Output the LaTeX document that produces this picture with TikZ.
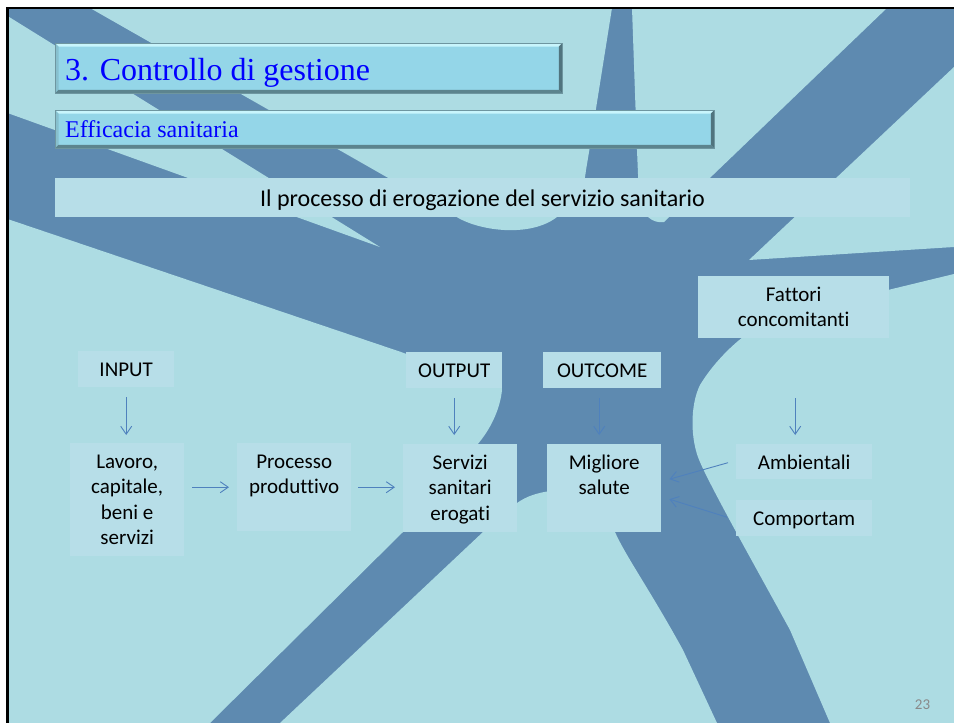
\documentclass[tikz,border=0pt]{standalone}
\usepackage{fontspec}
\setmainfont[Ligatures={NoCommon}]{Carlito}
\newfontfamily\headfont{Liberation Serif}
\usetikzlibrary{arrows.meta,calc}

\definecolor{bgLight}{RGB}{173,220,227}
\definecolor{bgDark}{RGB}{94,138,176}
\definecolor{boxFill}{RGB}{183,222,232}
\definecolor{titleFill}{RGB}{148,214,232}
\definecolor{bevelHi}{RGB}{200,245,252}
\definecolor{bevelSide}{RGB}{135,192,206}
\definecolor{bevelLo}{RGB}{92,132,142}
\definecolor{bevelDark}{RGB}{80,116,126}
\definecolor{bevelEdge}{RGB}{110,150,160}
\definecolor{arrowBlue}{RGB}{79,129,189}
\definecolor{titleBlue}{RGB}{0,0,255}
\definecolor{pageGray}{RGB}{137,137,137}

% bevelled frame around a title bar node
\newcommand\bevelframe[1]{%
  \fill[bevelHi] (#1.north west) -- (#1.north east) -- ($(#1.north east)+(-3.5,3.5)$) -- ($(#1.north west)+(3.5,3.5)$) -- cycle;
  \fill[bevelSide] (#1.north west) -- ($(#1.north west)+(3.5,3.5)$) -- ($(#1.south west)+(3.5,-3.5)$) -- (#1.south west) -- cycle;
  \fill[bevelLo] (#1.south west) -- ($(#1.south west)+(3.5,-3.5)$) -- ($(#1.south east)+(-3.5,-3.5)$) -- (#1.south east) -- cycle;
  \fill[bevelDark] (#1.north east) -- (#1.south east) -- ($(#1.south east)+(-3.5,-3.5)$) -- ($(#1.north east)+(-3.5,3.5)$) -- cycle;
  \draw[bevelEdge, line width=0.8] (#1.north west) rectangle (#1.south east);
}

\begin{document}
\begin{tikzpicture}[x=1pt,y=-1pt,
  titlebar/.style={rectangle, fill=titleFill, draw=none, inner sep=0, anchor=north west},
  databox/.style={rectangle, fill=boxFill, draw=none, inner sep=0, anchor=north west},
  lbl/.style={font=\fontsize{21}{25.5}\selectfont, align=center, inner sep=0, anchor=north, text=black},
  flow/.style={draw=arrowBlue, line width=0.9, -{Straight Barb[length=8pt, width=11pt]}}]

\useasboundingbox (0,0) rectangle (954,723);
\fill[white] (0,0) rectangle (954,723);

% slide background: dark branches with light regions between them
\fill[bgDark] (7.5,8) rectangle (954,723);
\fill[bgLight] (7.5,16) -- (380,247) -- (7.5,113) -- cycle;
\fill[bgLight] (90,8) -- (455,216) .. controls (478,231) and (530,238) .. (557,217)
  .. controls (575,205) and (584,190) .. (586,170) -- (591,140) -- (612,8) -- cycle;
\fill[bgLight] (632,8) -- (637,150) -- (639,198) .. controls (641,214) and (652,224) .. (664,222) -- (887,8) -- cycle;
\fill[bgLight] (954,67) -- (749,260) -- (954,247) -- cycle;
\fill[bgLight] (954,274) -- (888,290) -- (770,322) .. controls (755,327) and (748,332) .. (743,337)
  .. controls (730,347) and (712,365) .. (700,385) .. controls (690,405) and (690,440) .. (700,462)
  .. controls (712,490) and (760,575) .. (790,630) -- (830,723) -- (954,723) -- cycle;
\fill[bgLight] (7.5,219) -- (401,352) -- (412,356) .. controls (470,362) and (502,368) .. (502,390)
  .. controls (500,410) and (490,430) .. (477,445) .. controls (460,470) and (440,495) .. (403,532)
  -- (210,723) -- (7.5,723) -- cycle;
\fill[bgLight] (280,723) -- (483,532) .. controls (495,520) and (505,509) .. (517,503)
  .. controls (527,496) and (537,493) .. (550,491) .. controls (585,488) and (608,505) .. (615,532)
  .. controls (625,555) and (650,590) .. (683,650) -- (717,723) -- cycle;

% slide frame
\draw[black, line width=2.6] (7.5,723) -- (7.5,8) -- (954,8);

% title bars
\node[titlebar, minimum width=507, minimum height=50] (title) at (55,43) {};
\bevelframe{title}
\node[anchor=base west, inner sep=0, font=\headfont\fontsize{32}{38}\selectfont, text=titleBlue] (titletext) at (65,80) {3. Controllo di gestione};

\node[titlebar, minimum width=659, minimum height=38] (sub) at (55,110) {};
\bevelframe{sub}
\node[anchor=base west, inner sep=0, font=\headfont\fontsize{24}{29}\selectfont, text=titleBlue] (subtext) at (65,137) {Efficacia sanitaria};

% heading band
\node[databox, minimum width=855, minimum height=39] (head) at (55,178) {};
\node[anchor=base, inner sep=0, font=\fontsize{24}{29}\selectfont] (headtext) at (482.5,206) {Il processo di erogazione del servizio sanitario};

% boxes
\node[databox, minimum width=96, minimum height=36] (input) at (78,351) {};
\node[databox, minimum width=96, minimum height=36] (output) at (406,352) {};
\node[databox, minimum width=118, minimum height=36] (outcome) at (543,352) {};
\node[databox, minimum width=191, minimum height=62] (fatt) at (698,276) {};
\node[databox, minimum width=114, minimum height=113] (lav) at (70,443) {};
\node[databox, minimum width=114, minimum height=88] (proc) at (237,443) {};
\node[databox, minimum width=114, minimum height=88] (serv) at (403,444) {};
\node[databox, minimum width=114, minimum height=88] (mig) at (547,444) {};
\node[databox, minimum width=136, minimum height=35] (amb) at (736,444) {};
\node[databox, minimum width=136, minimum height=36] (comp) at (736,500) {};

% box texts
\node[lbl] (inputtext) at ($(input.north)+(0,7)$) {\strut INPUT};
\node[lbl] (outputtext) at ($(output.north)+(0,7)$) {\strut OUTPUT};
\node[lbl] (outcometext) at ($(outcome.north)+(0,7)$) {\strut OUTCOME};
\node[lbl] (fatttext) at ($(fatt.north)+(0,7)$) {\strut Fattori\\concomitanti};
\node[lbl] (lavtext) at ($(lav.north)+(0,7)$) {\strut Lavoro,\\capitale,\\beni e\\servizi};
\node[lbl] (proctext) at ($(proc.north)+(0,7)$) {\strut Processo\\produttivo};
\node[lbl] (servtext) at ($(serv.north)+(0,7)$) {\strut Servizi\\sanitari\\erogati};
\node[lbl] (migtext) at ($(mig.north)+(0,7)$) {\strut Migliore\\salute};
\node[lbl] (ambtext) at ($(amb.north)+(0,7)$) {\strut Ambientali};
\node[lbl] (comptext) at ($(comp.north)+(0,7)$) {\strut Comportam};

% connectors
\draw[flow, shorten <=10pt, shorten >=8pt] (input.south) -- (input.south |- lav.north);
\draw[flow, shorten <=10pt, shorten >=9pt] (output.south) -- (output.south |- serv.north);
\draw[flow, shorten <=10pt, shorten >=9pt] ($(outcome.south)+(-3,0)$) -- ($(outcome.south |- mig.north)+(-3,0)$);
\draw[flow, shorten <=60pt, shorten >=9pt] ($(fatt.south)+(1.5,0)$) -- ($(fatt.south |- amb.north)+(1.5,0)$);
\draw[flow, shorten <=8pt, shorten >=8pt] (lav.east |- proc.west) -- (proc.west);
\draw[flow, shorten <=7pt, shorten >=8pt] (proc.east) -- (proc.east -| serv.west);
\draw[flow] ($(amb.west)+(-8,1)$) -- ($(mig.east)+(8,-9)$);
\draw[flow] ($(comp.west)+(-9,-1)$) -- ($(mig.east)+(8,11)$);

% page number
\node[anchor=base, inner sep=0, font=\fontsize{15}{18}\selectfont, text=pageGray] (pagenum) at (922.5,709) {23};

\end{tikzpicture}
\end{document}
